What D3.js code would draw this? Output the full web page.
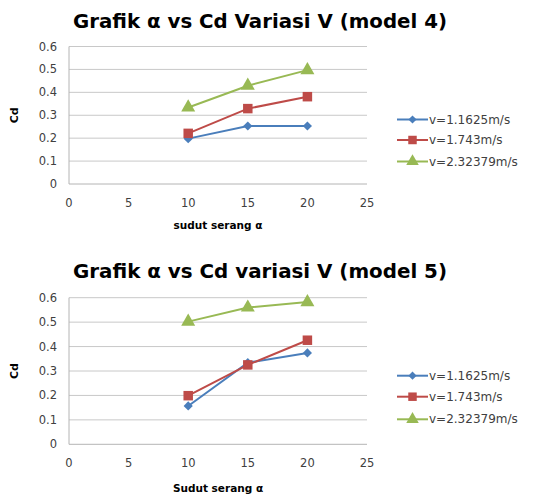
<!DOCTYPE html>
<html>
<head>
<meta charset="utf-8">
<script src="https://cdn.jsdelivr.net/npm/d3@7"></script>
<style>
  body { margin: 0; background: #fff; }
  text { font-family: "DejaVu Sans", Verdana, sans-serif; }
</style>
</head>
<body>
<svg id="chart" width="548" height="495"></svg>
<script>
// sudut serang (x)
const angles = [10, 15, 20];
const seriesNames = ["v=1.1625m/s", "v=1.743m/s", "v=2.32379m/s"];

// model 4
const m4_v1 = [0.198, 0.253, 0.253];
const m4_v2 = [0.221, 0.329, 0.381];
const m4_v3 = [0.334, 0.429, 0.497];

// model 5
const m5_v1 = [0.157, 0.334, 0.374];
const m5_v2 = [0.199, 0.325, 0.426];
const m5_v3 = [0.502, 0.560, 0.582];

const xTicks = [0, 5, 10, 15, 20, 25];
const yTicks = [0, 0.1, 0.2, 0.3, 0.4, 0.5, 0.6];

const colors = ["#4a7ebb", "#be4b48", "#98b954"];
const shapes = [d3.symbolSquare, d3.symbolSquare, d3.symbolTriangle];
const sizes = [42, 90, 85];
const rot = [45, 0, 0];

let svg = d3.select("#chart");

function drawChart(cfg) {
    let g = svg.append("g");
    let x = d3.scaleLinear().domain([0, 25]).range([69, 367]);
    let y = d3.scaleLinear().domain([0, 0.6]).range([cfg.y0, cfg.y6]);

    // title
    g.append("text")
        .attr("x", 260)
        .attr("y", cfg.titleY)
        .attr("text-anchor", "middle")
        .attr("textLength", 374)
        .attr("lengthAdjust", "spacingAndGlyphs")
        .style("font-weight", "bold")
        .style("font-size", "19px")
        .style("fill", "#000")
        .text(cfg.title);

    // grid lines
    g.selectAll(".grid")
        .data(yTicks.slice(1))
        .enter()
        .append("line")
        .attr("x1", x(0)).attr("x2", x(25))
        .attr("y1", d => y(d)).attr("y2", d => y(d))
        .attr("stroke", "#c8c8c8")
        .attr("stroke-width", 1);

    // axis lines
    g.append("line")
        .attr("x1", x(0)).attr("x2", x(0))
        .attr("y1", y(0)).attr("y2", y(0.6))
        .attr("stroke", "#b4b4b4");
    g.append("line")
        .attr("x1", x(0)).attr("x2", x(25))
        .attr("y1", y(0)).attr("y2", y(0))
        .attr("stroke", "#b4b4b4");

    // tick labels
    g.selectAll(".ytick")
        .data(yTicks)
        .enter()
        .append("text")
        .attr("x", 57)
        .attr("y", d => y(d) + 4)
        .attr("text-anchor", "end")
        .style("font-size", "11.5px")
        .style("fill", "#404040")
        .text(d => d3.format("")(d));
    g.selectAll(".xtick")
        .data(xTicks)
        .enter()
        .append("text")
        .attr("x", d => x(d))
        .attr("y", cfg.xLabelY)
        .attr("text-anchor", "middle")
        .style("font-size", "11.5px")
        .style("fill", "#404040")
        .text(d => d);

    // axis titles
    g.append("text")
        .attr("x", 218)
        .attr("y", cfg.xTitleY)
        .attr("text-anchor", "middle")
        .style("font-weight", "bold")
        .style("font-size", "10.5px")
        .text(cfg.xTitle);
    g.append("text")
        .attr("transform", "translate(18," + ((y(0) + y(0.6)) / 2) + ") rotate(-90)")
        .attr("text-anchor", "middle")
        .style("font-weight", "bold")
        .style("font-size", "11px")
        .text("Cd");

    // series
    let line = d3.line()
        .x((d, i) => x(angles[i]))
        .y(d => y(d));
    cfg.series.forEach((s, k) => {
        g.append("path")
            .attr("d", line(s))
            .attr("fill", "none")
            .attr("stroke", colors[k])
            .attr("stroke-width", 2);
        g.selectAll(".pt" + k)
            .data(s)
            .enter()
            .append("path")
            .attr("d", d3.symbol().type(shapes[k]).size(sizes[k]))
            .attr("transform", (d, i) => "translate(" + x(angles[i]) + "," + y(d) + ") rotate(" + rot[k] + ")")
            .attr("fill", colors[k]);
    });

    // legend
    seriesNames.forEach((name, k) => {
        let ly = cfg.legendY[k];
        g.append("line")
            .attr("x1", 397).attr("x2", 428)
            .attr("y1", ly).attr("y2", ly)
            .attr("stroke", colors[k])
            .attr("stroke-width", 2);
        g.append("path")
            .attr("d", d3.symbol().type(shapes[k]).size(sizes[k] * 0.8))
            .attr("transform", "translate(412.5," + ly + ") rotate(" + rot[k] + ")")
            .attr("fill", colors[k]);
        g.append("text")
            .attr("x", 429)
            .attr("y", ly + 4)
            .style("font-size", "12px")
            .style("fill", "#404040")
            .text(name);
    });
}

drawChart({
    title: "Grafik α vs Cd Variasi V (model 4)",
    titleY: 28,
    y0: 184, y6: 46.5,
    xLabelY: 207,
    xTitleY: 229,
    xTitle: "sudut serang α",
    series: [m4_v1, m4_v2, m4_v3],
    legendY: [119.5, 140, 161.5]
});

drawChart({
    title: "Grafik α vs Cd variasi V (model 5)",
    titleY: 278,
    y0: 444.3, y6: 297.7,
    xLabelY: 467,
    xTitleY: 492,
    xTitle: "Sudut serang α",
    series: [m5_v1, m5_v2, m5_v3],
    legendY: [375.7, 396.7, 419.3]
});
</script>
</body>
</html>
